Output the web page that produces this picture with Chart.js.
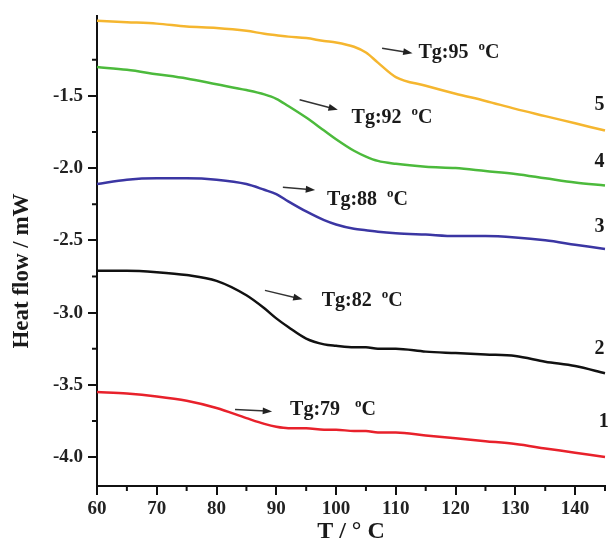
<!DOCTYPE html>
<html>
<head>
<meta charset="utf-8">
<script src="https://cdn.jsdelivr.net/npm/chart.js@4"></script>
<style>
  html, body { margin: 0; padding: 0; background: #fff; }
  #wrap { width: 608px; height: 544px; }
</style>
</head>
<body>
<div id="wrap"><canvas id="dsc"></canvas></div>
<script>
// temperatures (°C)
const temps = [60, 65, 70, 75, 80, 85, 88, 90, 92, 95, 98, 100, 103, 105, 107, 110, 115, 120, 125, 130, 135, 140, 145];

// heat flow (mW) per sample
const sample1 = [-3.55, -3.56, -3.58, -3.61, -3.66, -3.73, -3.77, -3.79, -3.80, -3.80, -3.81, -3.81, -3.82, -3.82, -3.83, -3.83, -3.85, -3.87, -3.89, -3.91, -3.94, -3.97, -4.00];
const sample2 = [-2.71, -2.71, -2.72, -2.74, -2.78, -2.88, -2.97, -3.04, -3.10, -3.18, -3.22, -3.23, -3.24, -3.24, -3.25, -3.25, -3.27, -3.28, -3.29, -3.30, -3.34, -3.37, -3.42];
const sample3 = [-2.11, -2.08, -2.07, -2.07, -2.08, -2.11, -2.15, -2.18, -2.23, -2.30, -2.36, -2.39, -2.42, -2.43, -2.44, -2.45, -2.46, -2.47, -2.47, -2.48, -2.50, -2.53, -2.56];
const sample4 = [-1.30, -1.32, -1.35, -1.38, -1.42, -1.46, -1.49, -1.52, -1.57, -1.65, -1.74, -1.80, -1.88, -1.92, -1.95, -1.97, -1.99, -2.00, -2.02, -2.04, -2.07, -2.10, -2.12];
const sample5 = [-0.98, -0.99, -1.00, -1.02, -1.03, -1.05, -1.07, -1.08, -1.09, -1.10, -1.12, -1.13, -1.16, -1.20, -1.27, -1.37, -1.43, -1.485, -1.535, -1.59, -1.64, -1.69, -1.74];

const sampleNames = ['1', '2', '3', '4', '5'];
const sampleColors = ['#e8212b', '#111111', '#3b36a3', '#4cba3c', '#f5b62f'];

// axis ticks
const xTicks = [60, 70, 80, 90, 100, 110, 120, 130, 140];
const xMinor = [65, 75, 85, 95, 105, 115, 125, 135, 145];
const yTicks = [-4.0, -3.5, -3.0, -2.5, -2.0, -1.5];
const yMinor = [-3.75, -3.25, -2.75, -2.25, -1.75, -1.25];

// Tg annotations (data coordinates)
const tgText = ['Tg:79', 'Tg:82', 'Tg:88', 'Tg:92', 'Tg:95'];
const tgTextX = [92.3, 97.6, 98.5, 102.6, 113.8];
const tgTextY = [-3.712, -2.956, -2.255, -1.685, -1.239];
const arrowFrom = [[83.1, -3.670], [88.1, -2.846], [91.1, -2.132], [93.9, -1.527], [107.7, -1.170]];
const arrowTo = [[89.3, -3.684], [94.4, -2.908], [96.5, -2.152], [100.3, -1.596], [112.8, -1.205]];

// curve number labels
const numX = [144.8, 144.1, 144.1, 144.1, 144.1];
const numY = [-3.794, -3.286, -2.441, -1.995, -1.596];

const serif = '"Liberation Serif", "Times New Roman", serif';
const allSamples = [sample1, sample2, sample3, sample4, sample5];

const datasets = allSamples.map((s, i) => ({
    label: sampleNames[i],
    data: temps.map((t, j) => ({ x: t, y: s[j] })),
    borderColor: sampleColors[i],
    borderWidth: 2.5,
    pointRadius: 0,
    cubicInterpolationMode: 'monotone',
    clip: false
}));

const extrasPlugin = {
    id: 'extras',
    afterDraw(chart) {
        const ctx = chart.ctx;
        const xs = chart.scales.x;
        const ys = chart.scales.y;
        const area = chart.chartArea;
        ctx.save();

        // minor ticks
        ctx.strokeStyle = '#111';
        ctx.lineWidth = 2;
        xMinor.forEach(v => {
            const px = xs.getPixelForValue(v);
            ctx.beginPath();
            ctx.moveTo(px, area.bottom);
            ctx.lineTo(px, area.bottom + 5);
            ctx.stroke();
        });
        yMinor.forEach(v => {
            const py = ys.getPixelForValue(v);
            ctx.beginPath();
            ctx.moveTo(area.left, py);
            ctx.lineTo(area.left - 5, py);
            ctx.stroke();
        });

        // arrows
        ctx.fillStyle = '#222';
        ctx.strokeStyle = '#333';
        ctx.lineWidth = 1.5;
        arrowFrom.forEach((a, i) => {
            const x1 = xs.getPixelForValue(a[0]), y1 = ys.getPixelForValue(a[1]);
            const x2 = xs.getPixelForValue(arrowTo[i][0]), y2 = ys.getPixelForValue(arrowTo[i][1]);
            const ang = Math.atan2(y2 - y1, x2 - x1);
            const hl = 10;
            ctx.beginPath();
            ctx.moveTo(x1, y1);
            ctx.lineTo(x2 - Math.cos(ang) * hl * 0.6, y2 - Math.sin(ang) * hl * 0.6);
            ctx.stroke();
            ctx.beginPath();
            ctx.moveTo(x2, y2);
            ctx.lineTo(x2 - hl * Math.cos(ang - 0.35), y2 - hl * Math.sin(ang - 0.35));
            ctx.lineTo(x2 - hl * Math.cos(ang + 0.35), y2 - hl * Math.sin(ang + 0.35));
            ctx.closePath();
            ctx.fill();
        });

        // Tg labels
        ctx.fillStyle = '#1a1a1a';
        ctx.textBaseline = 'alphabetic';
        ctx.textAlign = 'left';
        tgText.forEach((t, i) => {
            let px = xs.getPixelForValue(tgTextX[i]);
            const py = ys.getPixelForValue(tgTextY[i]);
            ctx.font = 'bold 20px ' + serif;
            ctx.fillText(t, px, py);
            px += ctx.measureText(t + (i === 0 ? '   ' : '  ')).width;
            ctx.font = 'bold 13px ' + serif;
            ctx.fillText('o', px, py - 8);
            px += ctx.measureText('o').width;
            ctx.font = 'bold 20px ' + serif;
            ctx.fillText('C', px, py);
        });

        // curve numbers
        ctx.font = 'bold 20px ' + serif;
        ctx.textAlign = 'center';
        sampleNames.forEach((n, i) => {
            ctx.fillText(n, xs.getPixelForValue(numX[i]), ys.getPixelForValue(numY[i]));
        });

        // y axis title
        ctx.translate(22, 271);
        ctx.rotate(-Math.PI / 2);
        ctx.textAlign = 'center';
        ctx.textBaseline = 'middle';
        ctx.font = 'bold 23px ' + serif;
        ctx.fillText('Heat flow / mW', 0, 0);
        ctx.restore();
    }
};

new Chart(document.getElementById('dsc'), {
    type: 'line',
    data: { datasets: datasets },
    options: {
        responsive: true,
        maintainAspectRatio: false,
        animation: false,
        layout: { padding: { top: 13, right: 3, left: 0, bottom: 0 } },
        plugins: {
            legend: { display: false },
            tooltip: { enabled: false }
        },
        scales: {
            x: {
                type: 'linear',
                min: 60,
                max: 145,
                afterBuildTicks: scale => { scale.ticks = xTicks.map(v => ({ value: v })); },
                afterFit: scale => { scale.height = 58; },
                border: { display: true, width: 2, color: '#111' },
                grid: { display: true, drawOnChartArea: false, drawTicks: true, tickLength: 9, lineWidth: 2, color: '#111' },
                ticks: {
                    padding: 3,
                    color: '#222',
                    maxRotation: 0,
                    font: { family: serif, size: 19, weight: 'bold' }
                },
                title: {
                    display: true,
                    text: 'T / ° C',
                    color: '#1a1a1a',
                    padding: { top: 0, bottom: 0 },
                    font: { family: serif, size: 24, weight: 'bold', lineHeight: 1 }
                }
            },
            y: {
                min: -4.2,
                max: -0.95,
                afterBuildTicks: scale => { scale.ticks = yTicks.map(v => ({ value: v })); },
                afterFit: scale => { scale.width = 97; },
                border: { display: true, width: 2, color: '#111' },
                grid: { display: true, drawOnChartArea: false, drawTicks: true, tickLength: 9, lineWidth: 2, color: '#111' },
                ticks: {
                    padding: 5,
                    color: '#222',
                    font: { family: serif, size: 19, weight: 'bold' },
                    callback: v => v.toFixed(1)
                }
            }
        }
    },
    plugins: [extrasPlugin]
});
</script>
</body>
</html>
